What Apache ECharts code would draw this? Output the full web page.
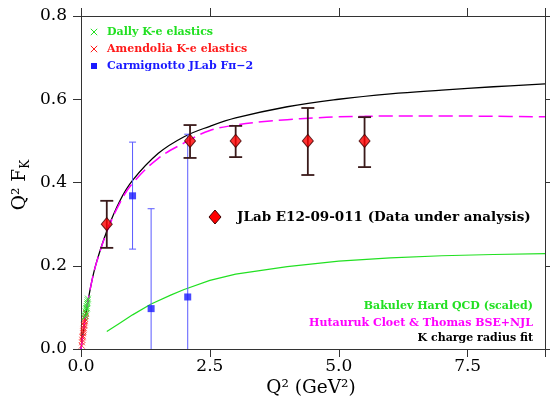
<!DOCTYPE html>
<html>
<head>
<meta charset="utf-8">
<script src="https://cdn.jsdelivr.net/npm/echarts@6/dist/echarts.min.js"></script>
<style>
  html, body { margin: 0; padding: 0; background: #fff; }
  #chart { width: 550px; height: 400px; }
</style>
</head>
<body>
<div id="chart"></div>
<script>
// Axis ticks
const xTicks = [0, 2.5, 5, 7.5];
const yTicks = [0, 0.2, 0.4, 0.6, 0.8];

// JLab E12-09-011 projected points (Q^2, Q^2 F_K, error band)
const jlabQ2   = [0.5, 2.115, 3.0, 4.4, 5.5];
const jlabVal  = [0.300, 0.500, 0.500, 0.500, 0.500];
const jlabLow  = [0.243, 0.459, 0.461, 0.418, 0.437];
const jlabHigh = [0.356, 0.538, 0.536, 0.579, 0.557];

// Carmignotto JLab F-pi-2 kaon points
const carmQ2   = [1.00, 1.36, 2.07];
const carmVal  = [0.368, 0.097, 0.125];
const carmLow  = [0.240, 0.000, 0.000];
const carmHigh = [0.497, 0.337, 0.516];

// Dally K-e elastics
const dallyQ2  = [0.070, 0.080, 0.090, 0.095, 0.100, 0.105, 0.110, 0.115, 0.120, 0.125, 0.130, 0.135];
const dallyVal = [0.076, 0.080, 0.090, 0.084, 0.095, 0.098, 0.103, 0.098, 0.108, 0.112, 0.117, 0.121];

// Amendolia K-e elastics
const amenQ2  = [0.015, 0.020, 0.025, 0.030, 0.035, 0.040, 0.045, 0.050, 0.055, 0.060, 0.065, 0.070, 0.075, 0.080, 0.090, 0.100];
const amenVal = [0.008, 0.016, 0.022, 0.028, 0.031, 0.038, 0.042, 0.046, 0.050, 0.056, 0.058, 0.064, 0.067, 0.072, 0.079, 0.086];

// K charge radius fit
const radiusQ2  = [0, 0.05, 0.1, 0.2, 0.3, 0.5, 0.75, 1.0, 1.5, 2.0, 2.5, 3.0, 4.0, 5.0, 6.0, 7.0, 8.0, 9.0];
const radiusVal = [0, 0.047, 0.089, 0.157, 0.208, 0.283, 0.355, 0.405, 0.470, 0.510, 0.535, 0.555, 0.582, 0.600, 0.613, 0.622, 0.630, 0.637];

// Hutauruk, Cloet & Thomas BSE+NJL
const bseQ2  = [0, 0.05, 0.1, 0.2, 0.3, 0.5, 0.75, 1.0, 1.5, 2.0, 2.5, 3.0, 3.5, 4.0, 4.5, 5.0, 5.5, 6.0, 7.0, 8.0, 9.0];
const bseVal = [0, 0.047, 0.089, 0.157, 0.207, 0.281, 0.350, 0.398, 0.458, 0.495, 0.525, 0.538, 0.546, 0.551, 0.555, 0.558, 0.559, 0.560, 0.560, 0.559, 0.558];

// Bakulev hard QCD (scaled)
const bakQ2  = [0.5, 0.75, 1.0, 1.36, 1.75, 2.0, 2.5, 3.0, 4.0, 5.0, 6.0, 7.0, 8.0, 9.0];
const bakVal = [0.042, 0.062, 0.082, 0.108, 0.130, 0.143, 0.165, 0.180, 0.198, 0.211, 0.219, 0.224, 0.227, 0.229];

const SERIF = '"DejaVu Serif", "Liberation Serif", serif';
const GREEN = '#22e022';
const RED = '#ff1a1a';
const BLUE = '#1a1aff';
const MAGENTA = '#ff00ff';
const AXIS = '#333333';

const pairs = (xs, ys) => xs.map((x, i) => [x, ys[i]]);
const bars = (xs, lo, hi) => xs.map((x, i) => [x, lo[i], hi[i]]);

function errorBars(color, width, capHalf) {
  return function (params, api) {
    const x = api.value(0), lo = api.value(1), hi = api.value(2);
    const pLo = api.coord([x, lo]);
    const pHi = api.coord([x, hi]);
    const style = { stroke: color, lineWidth: width, fill: null };
    const kids = [
      { type: 'line', shape: { x1: pLo[0], y1: pLo[1], x2: pHi[0], y2: pHi[1] }, style },
      { type: 'line', shape: { x1: pHi[0] - capHalf, y1: pHi[1], x2: pHi[0] + capHalf, y2: pHi[1] }, style }
    ];
    if (lo > 0) {
      kids.push({ type: 'line', shape: { x1: pLo[0] - capHalf, y1: pLo[1], x2: pLo[0] + capHalf, y2: pLo[1] }, style });
    }
    return { type: 'group', children: kids };
  };
}

const CROSS = 'path://M0,0L10,10M10,0L0,10';

function crossIcon(cx, cy, color) {
  const h = 3.2;
  const style = { stroke: color, lineWidth: 1 };
  return {
    type: 'group', children: [
      { type: 'line', shape: { x1: cx - h, y1: cy - h, x2: cx + h, y2: cy + h }, style },
      { type: 'line', shape: { x1: cx - h, y1: cy + h, x2: cx + h, y2: cy - h }, style }
    ]
  };
}

function legendText(x, y, text, color, size, align) {
  return {
    type: 'text', x: x, y: y,
    style: {
      text: text, fill: color, fontFamily: SERIF, fontWeight: 'bold',
      fontSize: size, align: align || 'left', verticalAlign: 'middle'
    }
  };
}

const axisCommon = {
  type: 'value',
  axisLine: { show: true, onZero: false, lineStyle: { color: AXIS, width: 1 } },
  axisTick: { show: true, inside: false, length: 8, lineStyle: { color: AXIS, width: 1 } },
  splitLine: { show: false }
};

const chart = echarts.init(document.getElementById('chart'), null, { renderer: 'canvas' });

chart.setOption({
  backgroundColor: '#ffffff',
  animation: false,
  grid: { left: 81, top: 16, width: 464, height: 333, containLabel: false },
  xAxis: [
    Object.assign({}, axisCommon, {
      min: xTicks[0], max: 9, interval: xTicks[1] - xTicks[0], position: 'bottom',
      axisLabel: {
        show: true, margin: 9, fontFamily: SERIF, fontSize: 17, color: '#000',
        formatter: v => (xTicks.indexOf(v) >= 0 ? v.toFixed(1) : '')
      }
    }),
    Object.assign({}, axisCommon, {
      min: xTicks[0], max: 9, interval: xTicks[1] - xTicks[0], position: 'top',
      axisLabel: { show: false }
    })
  ],
  yAxis: [
    Object.assign({}, axisCommon, {
      min: yTicks[0], max: yTicks[yTicks.length - 1], interval: yTicks[1] - yTicks[0], position: 'left',
      axisLabel: {
        show: true, margin: 14, fontFamily: SERIF, fontSize: 17, color: '#000',
        formatter: v => v.toFixed(1)
      }
    }),
    Object.assign({}, axisCommon, {
      min: yTicks[0], max: yTicks[yTicks.length - 1], interval: yTicks[1] - yTicks[0], position: 'right',
      axisLabel: { show: false }
    })
  ],
  series: [
    {
      name: 'Bakulev Hard QCD (scaled)', type: 'line', data: pairs(bakQ2, bakVal),
      showSymbol: false, symbol: 'none', smooth: false,
      lineStyle: { color: GREEN, width: 1.2 }, z: 2
    },
    {
      name: 'K charge radius fit', type: 'line', data: pairs(radiusQ2, radiusVal),
      showSymbol: false, symbol: 'none', smooth: 0.4,
      lineStyle: { color: '#000', width: 1.3 }, z: 2
    },
    {
      name: 'Hutauruk Cloet & Thomas BSE+NJL', type: 'line', data: pairs(bseQ2, bseVal),
      showSymbol: false, symbol: 'none', smooth: 0.4,
      lineStyle: { color: MAGENTA, width: 1.5, type: [14, 6] }, z: 3
    },
    {
      name: 'Amendolia K-e elastics', type: 'scatter', data: pairs(amenQ2, amenVal),
      symbol: CROSS, symbolSize: 6,
      itemStyle: { color: 'rgba(0,0,0,0)', borderColor: RED, borderWidth: 1 }, z: 4
    },
    {
      name: 'Dally K-e elastics', type: 'scatter', data: pairs(dallyQ2, dallyVal),
      symbol: CROSS, symbolSize: 6,
      itemStyle: { color: 'rgba(0,0,0,0)', borderColor: GREEN, borderWidth: 1 }, z: 4
    },
    {
      name: 'Carmignotto errors', type: 'custom', data: bars(carmQ2, carmLow, carmHigh),
      renderItem: errorBars('#5a5aff', 1, 3.5), encode: { x: 0, y: [1, 2] }, clip: true, z: 4
    },
    {
      name: 'Carmignotto JLab F\u03c0-2', type: 'scatter', data: pairs(carmQ2, carmVal),
      symbol: 'rect', symbolSize: 7, itemStyle: { color: BLUE }, z: 5
    },
    {
      name: 'JLab errors', type: 'custom', data: bars(jlabQ2, jlabLow, jlabHigh),
      renderItem: errorBars('#3a1a1a', 1.8, 6.5), encode: { x: 0, y: [1, 2] }, clip: true, z: 6
    },
    {
      name: 'JLab E12-09-011 (Data under analysis)', type: 'scatter', data: pairs(jlabQ2, jlabVal),
      symbol: 'diamond', symbolSize: [11, 13],
      itemStyle: { color: '#ff0000', borderColor: '#400000', borderWidth: 1 }, z: 7
    }
  ],
  graphic: [
    // axis titles
    {
      type: 'text', x: 20, y: 185, rotation: Math.PI / 2,
      style: {
        text: 'Q\u00b2 F{k|K}', fill: '#000', fontFamily: SERIF, fontSize: 18.5,
        align: 'center', verticalAlign: 'middle', lineHeight: 24,
        rich: { k: { fontFamily: SERIF, fontSize: 12, fill: '#000', verticalAlign: 'bottom', lineHeight: 12 } }
      }
    },
    {
      type: 'text', x: 311, y: 388,
      style: {
        text: 'Q\u00b2 (GeV\u00b2)', fill: '#000', fontFamily: SERIF, fontSize: 18.5,
        align: 'center', verticalAlign: 'middle'
      }
    },
    // top-left key
    crossIcon(94, 32, GREEN),
    legendText(107, 32, 'Dally K-e elastics', GREEN, 11),
    crossIcon(94, 49, RED),
    legendText(107, 49, 'Amendolia K-e elastics', RED, 11),
    { type: 'rect', shape: { x: 91, y: 63, width: 6, height: 6 }, style: { fill: BLUE } },
    legendText(107, 66, 'Carmignotto JLab F\u03c0\u22122', BLUE, 11),
    // JLab key
    {
      type: 'polygon',
      shape: { points: [[215, 210], [221, 217], [215, 224], [209, 217]] },
      style: { fill: '#ff0000', stroke: '#400000', lineWidth: 1 }
    },
    legendText(237, 217, 'JLab E12-09-011 (Data under analysis)', '#000', 13.5),
    // bottom-right key
    legendText(533, 306, 'Bakulev Hard QCD (scaled)', GREEN, 11, 'right'),
    legendText(533, 323, 'Hutauruk Cloet & Thomas BSE+NJL', MAGENTA, 11, 'right'),
    legendText(533, 338, 'K charge radius fit', '#000', 11, 'right')
  ]
});
</script>
</body>
</html>
